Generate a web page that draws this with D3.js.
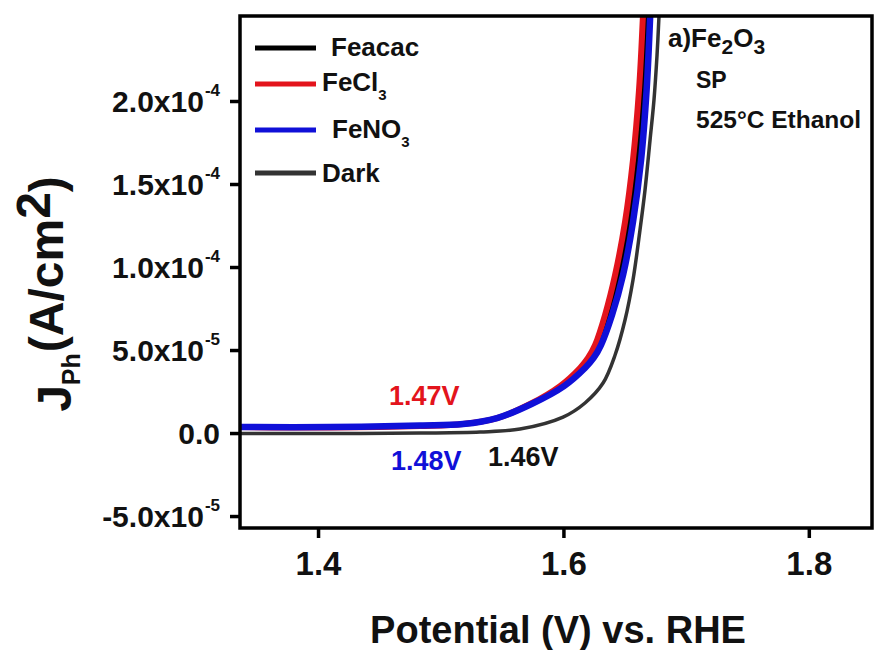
<!DOCTYPE html>
<html>
<head>
<meta charset="utf-8">
<script src="https://cdn.jsdelivr.net/npm/d3@7"></script>
<style>
  html, body { margin: 0; padding: 0; background: #fff; }
  svg text { font-family: "Liberation Sans", Arial, sans-serif; font-weight: bold; }
</style>
</head>
<body>
<svg id="chart" width="876" height="650"></svg>
<script>
// Linear sweep voltammetry of Fe2O3 films (SP, 525 °C, ethanol) from three precursors
const seriesNames = ["Dark", "Feacac", "FeCl3", "FeNO3"];
const seriesColors = ["#333333", "#000000", "#e3141c", "#1010d8"];
const seriesWidths = [3.5, 3.5, 6, 6.5];

const darkV   = [1.3364, 1.4098, 1.4831, 1.5320, 1.5646, 1.5997, 1.6176, 1.6323, 1.6421, 1.6502, 1.6567, 1.6624, 1.6665, 1.6706, 1.6738, 1.6763, 1.6779];
const darkJ   = [-0.3e-6, -0.3e-6, 0.0, 0.6e-6, 2.4e-6, 9.6e-6, 1.81e-5, 3.01e-5, 4.70e-5, 6.81e-5, 9.22e-5, 1.223e-4, 1.464e-4, 1.765e-4, 2.006e-4, 2.277e-4, 2.512e-4];

const feacacV = [1.3364, 1.4098, 1.4831, 1.5182, 1.5459, 1.5736, 1.5985, 1.6152, 1.6222, 1.6283, 1.6368, 1.6453, 1.6534, 1.6600, 1.6648, 1.6681];
const feacacJ = [3.0e-6, 3.0e-6, 3.9e-6, 5.1e-6, 8.7e-6, 1.75e-5, 2.83e-5, 3.92e-5, 4.52e-5, 5.30e-5, 7.11e-5, 9.52e-5, 1.271e-4, 1.645e-4, 2.066e-4, 2.512e-4];

const fecl3V  = [1.3364, 1.4098, 1.4831, 1.5182, 1.5459, 1.5728, 1.5972, 1.6135, 1.6200, 1.6258, 1.6339, 1.6421, 1.6502, 1.6567, 1.6616, 1.6648];
const fecl3J  = [3.6e-6, 3.3e-6, 4.2e-6, 5.4e-6, 9.0e-6, 1.75e-5, 2.83e-5, 3.92e-5, 4.52e-5, 5.30e-5, 7.11e-5, 9.52e-5, 1.271e-4, 1.645e-4, 2.066e-4, 2.512e-4];

const feno3V  = [1.3364, 1.4098, 1.4831, 1.5182, 1.5459, 1.5740, 1.6005, 1.6176, 1.6246, 1.6306, 1.6396, 1.6486, 1.6567, 1.6633, 1.6678, 1.6707];
const feno3J  = [3.6e-6, 3.6e-6, 4.5e-6, 5.4e-6, 9.0e-6, 1.75e-5, 2.83e-5, 3.92e-5, 4.52e-5, 5.30e-5, 7.11e-5, 9.52e-5, 1.271e-4, 1.645e-4, 2.066e-4, 2.512e-4];

const xTicks = [1.4, 1.6, 1.8];
const xTickLabels = ["1.4", "1.6", "1.8"];
const yTicks = [-5e-5, 0, 5e-5, 1e-4, 1.5e-4, 2e-4];
const yTickMantissas = ["-5.0x10", "0.0", "5.0x10", "1.0x10", "1.5x10", "2.0x10"];
const yTickExponents = ["-5", "", "-5", "-4", "-4", "-4"];

const onsetLabels = ["1.47V", "1.48V", "1.46V"];

const series = [
  { name: seriesNames[0], v: darkV,   j: darkJ },
  { name: seriesNames[1], v: feacacV, j: feacacJ },
  { name: seriesNames[2], v: fecl3V,  j: fecl3J },
  { name: seriesNames[3], v: feno3V,  j: feno3J }
];

const svg = d3.select("#chart");
const m = { left: 240, right: 4, top: 16, bottom: 122 };
const W = 876, H = 650;
const x = d3.scaleLinear().domain([1.3364, 1.8515]).range([m.left, W - m.right]);
const y = d3.scaleLinear().domain([-5.72e-5, 2.512e-4]).range([H - m.bottom, m.top]);

svg.append("defs").append("clipPath").attr("id", "plotclip")
  .append("rect").attr("x", m.left).attr("y", m.top)
  .attr("width", W - m.right - m.left).attr("height", H - m.bottom - m.top);

// curves
const line = d3.line().x(d => x(d[0])).y(d => y(d[1])).curve(d3.curveCatmullRom.alpha(0.5));
const g = svg.append("g").attr("clip-path", "url(#plotclip)");
series.forEach((s, i) => {
  const pts = s.v.map((v, k) => [v, s.j[k]]);
  g.append("path").datum(pts)
    .attr("fill", "none")
    .attr("stroke", seriesColors[i])
    .attr("stroke-width", seriesWidths[i])
    .attr("stroke-linejoin", "round")
    .attr("d", line);
});

// frame
svg.append("rect")
  .attr("x", m.left).attr("y", m.top)
  .attr("width", W - m.right - m.left).attr("height", H - m.bottom - m.top)
  .attr("fill", "none").attr("stroke", "#000").attr("stroke-width", 3.5);

// x axis
const xAxis = svg.append("g").attr("transform", `translate(0,${H - m.bottom})`)
  .call(d3.axisBottom(x).tickValues(xTicks).tickSize(10).tickPadding(14)
    .tickFormat((d, i) => xTickLabels[i]));
xAxis.select(".domain").remove();
xAxis.selectAll(".tick line").attr("stroke", "#000").attr("stroke-width", 3.5);
xAxis.selectAll(".tick text").attr("font-size", 33).attr("fill", "#111")
  .attr("font-family", "Liberation Sans, Arial, sans-serif").attr("font-weight", "bold");

// y axis
const yAxis = svg.append("g").attr("transform", `translate(${m.left},0)`)
  .call(d3.axisLeft(y).tickValues(yTicks).tickSize(10).tickPadding(10).tickFormat(""));
yAxis.select(".domain").remove();
yAxis.selectAll(".tick line").attr("stroke", "#000").attr("stroke-width", 3.5);
yAxis.selectAll(".tick text").each(function (d, i) {
  const t = d3.select(this)
    .attr("font-size", 30).attr("fill", "#111").attr("dy", "0.36em")
    .attr("font-family", "Liberation Sans, Arial, sans-serif").attr("font-weight", "bold");
  t.text(null);
  t.append("tspan").text(yTickMantissas[i]);
  if (yTickExponents[i]) {
    t.append("tspan").attr("font-size", 17).attr("dy", "-0.95em").attr("dx", "1").text(yTickExponents[i]);
  }
});

// axis titles
svg.append("text")
  .attr("x", 558).attr("y", 643)
  .attr("text-anchor", "middle").attr("font-size", 38).attr("fill", "#111")
  .text("Potential (V) vs. RHE");

const yt = svg.append("text")
  .attr("transform", "translate(71,294) rotate(-90)")
  .attr("text-anchor", "middle").attr("font-size", 48).attr("fill", "#111");
yt.append("tspan").text("J");
yt.append("tspan").attr("font-size", 25).attr("dy", "0.35em").text("Ph");
yt.append("tspan").attr("dy", "-0.35em").attr("dx", 1).text("(A/cm");
yt.append("tspan").attr("dy", "-0.28em").text("2");
yt.append("tspan").attr("dy", "0.28em").text(")");

// legend
const legendOrder = [1, 2, 3, 0];
const legendY = [48, 84, 130, 173];
const legendTextX = [331, 322, 332, 322];
const legendTextY = [56, 91, 138, 182];
const legendSub = ["", "3", "3", ""];
const legendBase = ["Feacac", "FeCl", "FeNO", "Dark"];
legendOrder.forEach((si, r) => {
  svg.append("line")
    .attr("x1", 255).attr("x2", 316).attr("y1", legendY[r]).attr("y2", legendY[r])
    .attr("stroke", seriesColors[si]).attr("stroke-width", 5);
  const t = svg.append("text").attr("x", legendTextX[r]).attr("y", legendTextY[r])
    .attr("font-size", 26).attr("fill", "#111").text(legendBase[r]);
  if (legendSub[r]) t.append("tspan").attr("font-size", 15).attr("dy", 9).text(legendSub[r]);
});

// sample annotation
const ann = svg.append("text").attr("x", 668).attr("y", 47).attr("font-size", 26).attr("fill", "#111");
ann.append("tspan").text("a)Fe");
ann.append("tspan").attr("font-size", 21).attr("dy", 7).text("2");
ann.append("tspan").attr("dy", -7).text("O");
ann.append("tspan").attr("font-size", 21).attr("dy", 7).text("3");
svg.append("text").attr("x", 696).attr("y", 88).attr("font-size", 23).attr("fill", "#111").text("SP");
svg.append("text").attr("x", 696).attr("y", 128).attr("font-size", 24.5).attr("fill", "#111").text("525°C Ethanol");

// onset potential labels
const onsetColors = ["#e3141c", "#1010d8", "#111"];
const onsetX = [389, 391, 488];
const onsetY = [405, 470, 466];
onsetLabels.forEach((lab, i) => {
  svg.append("text").attr("x", onsetX[i]).attr("y", onsetY[i])
    .attr("font-size", 27).attr("fill", onsetColors[i]).text(lab);
});
</script>
</body>
</html>
